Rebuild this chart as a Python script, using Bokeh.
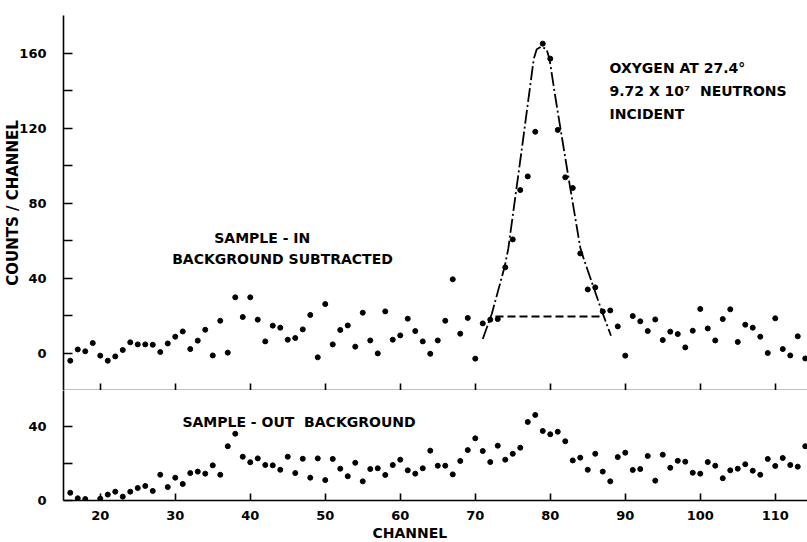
from bokeh.plotting import figure
from bokeh.models import Range1d, FixedTicker, Label, Title
from bokeh.layouts import column
from bokeh.embed import file_html
from bokeh.resources import INLINE

FONT = "DejaVu Sans"

# ---- data ----
in_channels = list(range(16, 115))
in_counts = [-4.1, 1.9, 0.9, 5.3, -1.4, -4.1, -1.8, 1.6, 5.7, 4.6,
             4.6, 4.4, 0.5, 5.1, 8.7, 11.5, 2.1, 6.6, 12.4, -1.3,
             17.2, 0.2, 29.7, 19.2, 29.7, 17.8, 6.2, 14.6, 13.5, 7.1,
             8.0, 12.6, 20.3, -2.3, 26.1, 4.6, 12.3, 14.7, 3.4, 21.5,
             6.7, -0.2, 22.2, 7.1, 9.4, 18.3, 11.7, 6.2, -0.4, 6.7,
             17.2, 39.3, 10.3, 18.7, -3.0, 15.8, 17.8, 18.1, 45.7, 60.6,
             86.9, 94.2, 118.0, 165.0, 157.0, 119.0, 93.7, 88.0, 53.1, 33.9,
             35.0, 22.2, 22.7, 14.2, -1.4, 19.7, 16.9, 11.7, 17.9, 6.9,
             11.4, 10.1, 3.0, 11.9, 23.5, 13.1, 6.7, 18.1, 23.3, 5.9,
             15.1, 13.5, 8.7, 0.0, 18.5, 2.1, -1.3, 8.9, -2.9]

out_channels = [16, 17, 18] + list(range(20, 115))
out_counts = [4.2, 1.2, 0.8,
              1.0, 3.2, 4.8, 2.1, 4.8, 6.8, 7.9, 5.2, 14.0, 7.3,
              12.4, 9.0, 14.9, 15.7, 14.6, 19.1, 14.0, 29.5, 36.3, 23.8,
              20.8, 22.9, 19.3, 19.1, 16.7, 23.8, 14.9, 22.7, 12.4, 22.9,
              11.1, 22.6, 17.3, 13.2, 20.5, 10.4, 17.1, 17.5, 13.9, 19.3,
              22.2, 16.4, 14.6, 17.5, 27.1, 18.9, 18.9, 14.2, 21.5, 27.4,
              33.8, 26.9, 20.9, 29.8, 22.2, 25.4, 28.7, 42.7, 46.5, 37.8,
              36.0, 37.4, 32.2, 21.8, 23.3, 16.7, 25.4, 15.7, 10.4, 23.6,
              26.0, 16.6, 17.1, 24.2, 10.8, 24.9, 17.8, 21.6, 21.1, 15.1,
              14.6, 20.9, 18.9, 12.1, 16.4, 17.3, 19.7, 16.2, 14.0, 22.6,
              18.8, 23.1, 19.3, 18.4, 29.5]

fit_x = [71.0, 72.2, 73.9, 74.4, 76.3, 77.8, 78.2, 78.8, 79.5, 79.9,
         80.7, 82.5, 84.0, 84.4, 86.7, 88.1]
fit_y = [7.5, 20.8, 45.7, 55.5, 111.5, 156.8, 162.0, 163.4, 162.0, 156.8,
         136.0, 91.9, 56.3, 51.0, 24.3, 9.2]

base_x = [72.7, 86.9]
base_y = [19.5, 19.5]

x_ticks = [20, 30, 40, 50, 60, 70, 80, 90, 100, 110]
top_y_major = [0, 40, 80, 120, 160]
top_y_minor = [20, 60, 100, 140]
bot_y_major = [0, 40]
bot_y_minor = [20]


def style_axes(p):
    p.outline_line_color = None
    p.grid.visible = False
    p.background_fill_color = "white"
    p.border_fill_color = "white"
    for ax in (p.xaxis[0], p.yaxis[0]):
        ax.axis_line_width = 1.6
        ax.axis_line_color = "black"
        ax.major_tick_line_width = 1.6
        ax.major_tick_line_color = "black"
        ax.major_tick_out = 0
        ax.minor_tick_line_width = 1.6
        ax.minor_tick_line_color = "black"
        ax.minor_tick_out = 0
        ax.major_label_text_font = FONT
        ax.major_label_text_font_style = "bold"
        ax.major_label_text_font_size = "13px"
        ax.major_label_text_color = "black"
        ax.axis_label_text_font = FONT
        ax.axis_label_text_font_style = "bold"
        ax.axis_label_text_font_size = "15px"
        ax.axis_label_text_color = "black"


p1 = figure(width=807, height=390, x_range=Range1d(15.1, 114.3),
            y_range=Range1d(-20, 180), output_backend="svg",
            toolbar_location=None, min_border_left=63, min_border_right=0,
            min_border_top=15, min_border_bottom=0)
style_axes(p1)
p1.yaxis.ticker = FixedTicker(ticks=top_y_major, minor_ticks=top_y_minor)
p1.yaxis.major_tick_in = 9
p1.yaxis.minor_tick_in = 9
p1.yaxis.major_label_standoff = 17
p1.yaxis.axis_label = "COUNTS / CHANNEL"
p1.yaxis.axis_label_standoff = -6
p1.xaxis.ticker = FixedTicker(ticks=[], minor_ticks=x_ticks)
p1.xaxis.minor_tick_in = 7
p1.xaxis.major_label_standoff = 0

p1.scatter(in_channels, in_counts, size=5, color="black")
p1.line(fit_x, fit_y, line_color="black", line_width=1.8, line_dash="14 3 2 3")
p1.line(base_x, base_y, line_color="black", line_width=2, line_dash="8 4")


def add_text(p, text, x, y, align="left", size="14px"):
    p.add_layout(Label(x=x, y=y, text=text,
                       text_font=FONT, text_font_style="bold", text_font_size=size,
                       text_color="black", text_align=align, text_baseline="middle"))


NB = "\u00a0"
add_text(p1, "SAMPLE - IN", 41.6, 61.5, align="center")
add_text(p1, "BACKGROUND SUBTRACTED", 44.3, 50.3, align="center")
add_text(p1, "OXYGEN AT 27.4°", 87.9, 152.2)
add_text(p1, "9.72 X 10⁷" + NB + NB + "NEUTRONS", 87.9, 139.9)
add_text(p1, "INCIDENT", 87.9, 127.6)

p2 = figure(width=807, height=152, x_range=p1.x_range,
            y_range=Range1d(0, 59.8), output_backend="svg",
            toolbar_location=None, min_border_left=63, min_border_right=0,
            min_border_top=0, min_border_bottom=42)
style_axes(p2)
p2.yaxis.ticker = FixedTicker(ticks=bot_y_major, minor_ticks=bot_y_minor)
p2.yaxis.major_tick_in = 9
p2.yaxis.minor_tick_in = 9
p2.yaxis.major_label_standoff = 17
p2.xaxis.ticker = FixedTicker(ticks=x_ticks)
p2.xaxis.major_tick_in = 7
p2.xaxis.major_label_standoff = 10
p2.add_layout(Title(text="CHANNEL", align="left", offset=309, standoff=0,
                    text_font=FONT, text_font_style="bold", text_font_size="14px",
                    text_color="black"), "below")

p2.scatter(out_channels, out_counts, size=5, color="black")
add_text(p2, "SAMPLE - OUT" + NB + NB + "BACKGROUND", 46.5, 42.7, align="center")

layout = column(p1, p2)
open("out.html", "w").write(file_html(layout, INLINE))
